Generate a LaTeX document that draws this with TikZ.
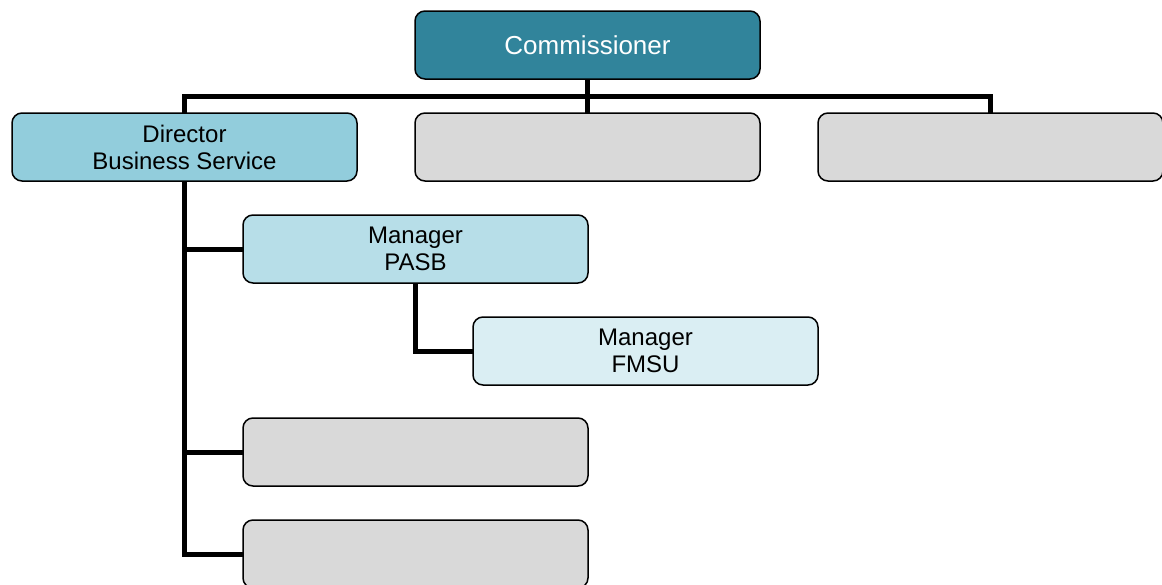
\documentclass[tikz,border=0pt]{standalone}
\usepackage{fontspec}
\setmainfont{Liberation Sans}
\usepackage{tikz}
\usetikzlibrary{positioning,calc}
\definecolor{acTeal}{HTML}{31849B}
\definecolor{acBlue}{HTML}{92CDDC}
\definecolor{acBlueLight}{HTML}{B7DEE8}
\definecolor{acBluePale}{HTML}{DAEEF3}
\definecolor{acGray}{HTML}{D9D9D9}

\begin{document}
\begin{tikzpicture}[
    x=1pt, y=-1pt,
    node distance=34pt and 58pt,
    box/.style={rectangle, draw, line width=1.5pt, rounded corners=10pt, minimum width=345pt, minimum height=68pt, align=center, inner sep=0pt, outer sep=0pt, font=\fontsize{24}{27}\selectfont},
    emptybox/.style={box, fill=acGray},
    link/.style={line width=5pt}
]
\useasboundingbox (0,0) rectangle (1162,584);

% Top level
\node[box, fill=acTeal, text=white, font=\fontsize{26}{29}\selectfont] (comm) at (587.5,45) {Commissioner};
\node[emptybox, below=of comm] (mid) {};
\node[box, fill=acBlue, left=of mid] (dir) {Director\\Business Service};
\node[emptybox, right=of mid] (right) {};

% Under the director
\node[box, fill=acBlueLight, below right=34pt and 231pt of dir.south west] (pasb) {Manager\\PASB};
\node[box, fill=acBluePale, below right=34pt and 230pt of pasb.south west] (fmsu) {Manager\\FMSU};
\node[emptybox, below=135pt of pasb] (low) {};
\node[emptybox, below=of low] (bottom) {};

% Connectors
\coordinate (bus) at ($(comm.south)!0.5!(mid.north)$);
\draw[link] (comm.south) -- (mid.north);
\draw[link] (dir.north) |- (bus) -| (right.north);
\draw[link] (dir.south) |- (bottom.west);
\draw[link] (dir.south) |- (pasb.west);
\draw[link] (dir.south) |- (low.west);
\draw[link] (pasb.south) |- (fmsu.west);

\end{tikzpicture}
\end{document}
